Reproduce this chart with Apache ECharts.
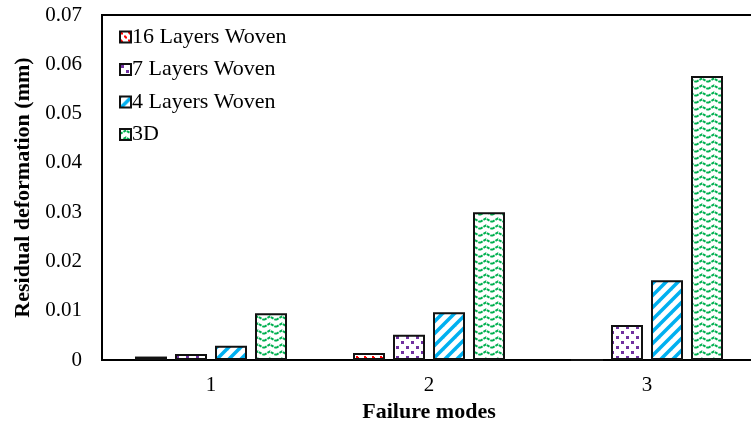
<!DOCTYPE html>
<html>
<head>
<meta charset="utf-8">
<script src="https://cdn.jsdelivr.net/npm/echarts@6/dist/echarts.min.js"></script>
<style>html,body{margin:0;padding:0;background:#fff;}#chart{width:751px;height:425px;}</style>
</head>
<body>
<div id="chart"></div>
<script>
const categories = ['1', '2', '3'];
const seriesNames = ['16 Layers Woven', '7 Layers Woven', '4 Layers Woven', '3D'];
const layers16 = [0.0007, 0.0014, 0];
const layers7 = [0.0012, 0.0051, 0.0071];
const layers4 = [0.0029, 0.0097, 0.0162];
const solid3D = [0.0095, 0.0300, 0.0576];
const yTicks = { min: 0, max: 0.07, interval: 0.01 };

function canvasOf(w, h, draw) {
  const c = document.createElement('canvas');
  c.width = w; c.height = h;
  const ctx = c.getContext('2d');
  ctx.fillStyle = '#fff';
  ctx.fillRect(0, 0, w, h);
  draw(ctx);
  return c;
}
const patRed = canvasOf(8, 8, ctx => {
  ctx.fillStyle = '#FF0000';
  ctx.fillRect(0, 0, 2, 2);
  ctx.fillRect(1, 1, 2, 2);
  ctx.fillRect(4, 4, 2, 2);
  ctx.fillRect(5, 5, 2, 2);
});
const patPurple = canvasOf(10, 10, ctx => {
  ctx.fillStyle = '#7030A0';
  ctx.fillRect(1, 1, 3, 3);
  ctx.fillRect(6, 6, 3, 3);
});
const patCyan = canvasOf(12, 12, ctx => {
  ctx.strokeStyle = '#00B0F0';
  ctx.lineWidth = 3.5;
  for (let k = -1; k <= 1; k++) {
    ctx.beginPath();
    ctx.moveTo(-2 + k * 12, 14);
    ctx.lineTo(14 + k * 12, -2);
    ctx.stroke();
  }
});
const patGreen = canvasOf(12, 7, ctx => {
  ctx.strokeStyle = '#00B050';
  ctx.lineWidth = 2;
  ctx.setLineDash([3, 1]);
  ctx.beginPath();
  ctx.moveTo(0, 5);
  ctx.lineTo(6, 1.5);
  ctx.lineTo(12, 5);
  ctx.stroke();
});

const font = '"Liberation Serif", "Times New Roman", serif';
function barSeries(name, data, pat) {
  return {
    name: name,
    type: 'bar',
    data: data,
    barWidth: 32,
    barGap: '25%',
    itemStyle: {
      color: { image: pat, repeat: 'repeat' },
      borderColor: '#111',
      borderWidth: 2
    },
    emphasis: { disabled: true },
    animation: false
  };
}

const chart = echarts.init(document.getElementById('chart'));
chart.setOption({
  animation: false,
  backgroundColor: '#fff',
  grid: {
    left: 102, top: 15, width: 654, height: 345,
    outerBoundsMode: 'none',
    show: true, borderColor: '#000', borderWidth: 2, backgroundColor: 'transparent'
  },
  legend: {
    orient: 'vertical',
    left: 114, top: 21,
    icon: 'rect',
    itemWidth: 11, itemHeight: 11,
    itemGap: 10.5,
    data: seriesNames,
    textStyle: { fontFamily: font, fontSize: 22, color: '#000', lineHeight: 20, padding: [0, 0, 0, -4] }
  },
  xAxis: {
    type: 'category',
    data: categories,
    axisLine: { show: true, lineStyle: { color: '#000', width: 2 } },
    axisTick: { show: false },
    axisLabel: { fontFamily: font, fontSize: 21, color: '#000', margin: 15 },
    name: 'Failure modes',
    nameLocation: 'middle',
    nameGap: 38,
    nameTextStyle: { fontFamily: font, fontSize: 22, fontWeight: 'bold', color: '#000' }
  },
  yAxis: {
    type: 'value',
    min: yTicks.min, max: yTicks.max, interval: yTicks.interval,
    axisLine: { show: true, lineStyle: { color: '#000', width: 1.5 } },
    axisTick: { show: false },
    splitLine: { show: false },
    axisLabel: { fontFamily: font, fontSize: 21, color: '#000', margin: 20 },
    name: 'Residual deformation (mm)',
    nameLocation: 'middle',
    nameGap: 68,
    nameTextStyle: { fontFamily: font, fontSize: 22, fontWeight: 'bold', color: '#000' }
  },
  series: [
    barSeries(seriesNames[0], layers16, patRed),
    barSeries(seriesNames[1], layers7, patPurple),
    barSeries(seriesNames[2], layers4, patCyan),
    barSeries(seriesNames[3], solid3D, patGreen)
  ]
});
</script>
</body>
</html>
